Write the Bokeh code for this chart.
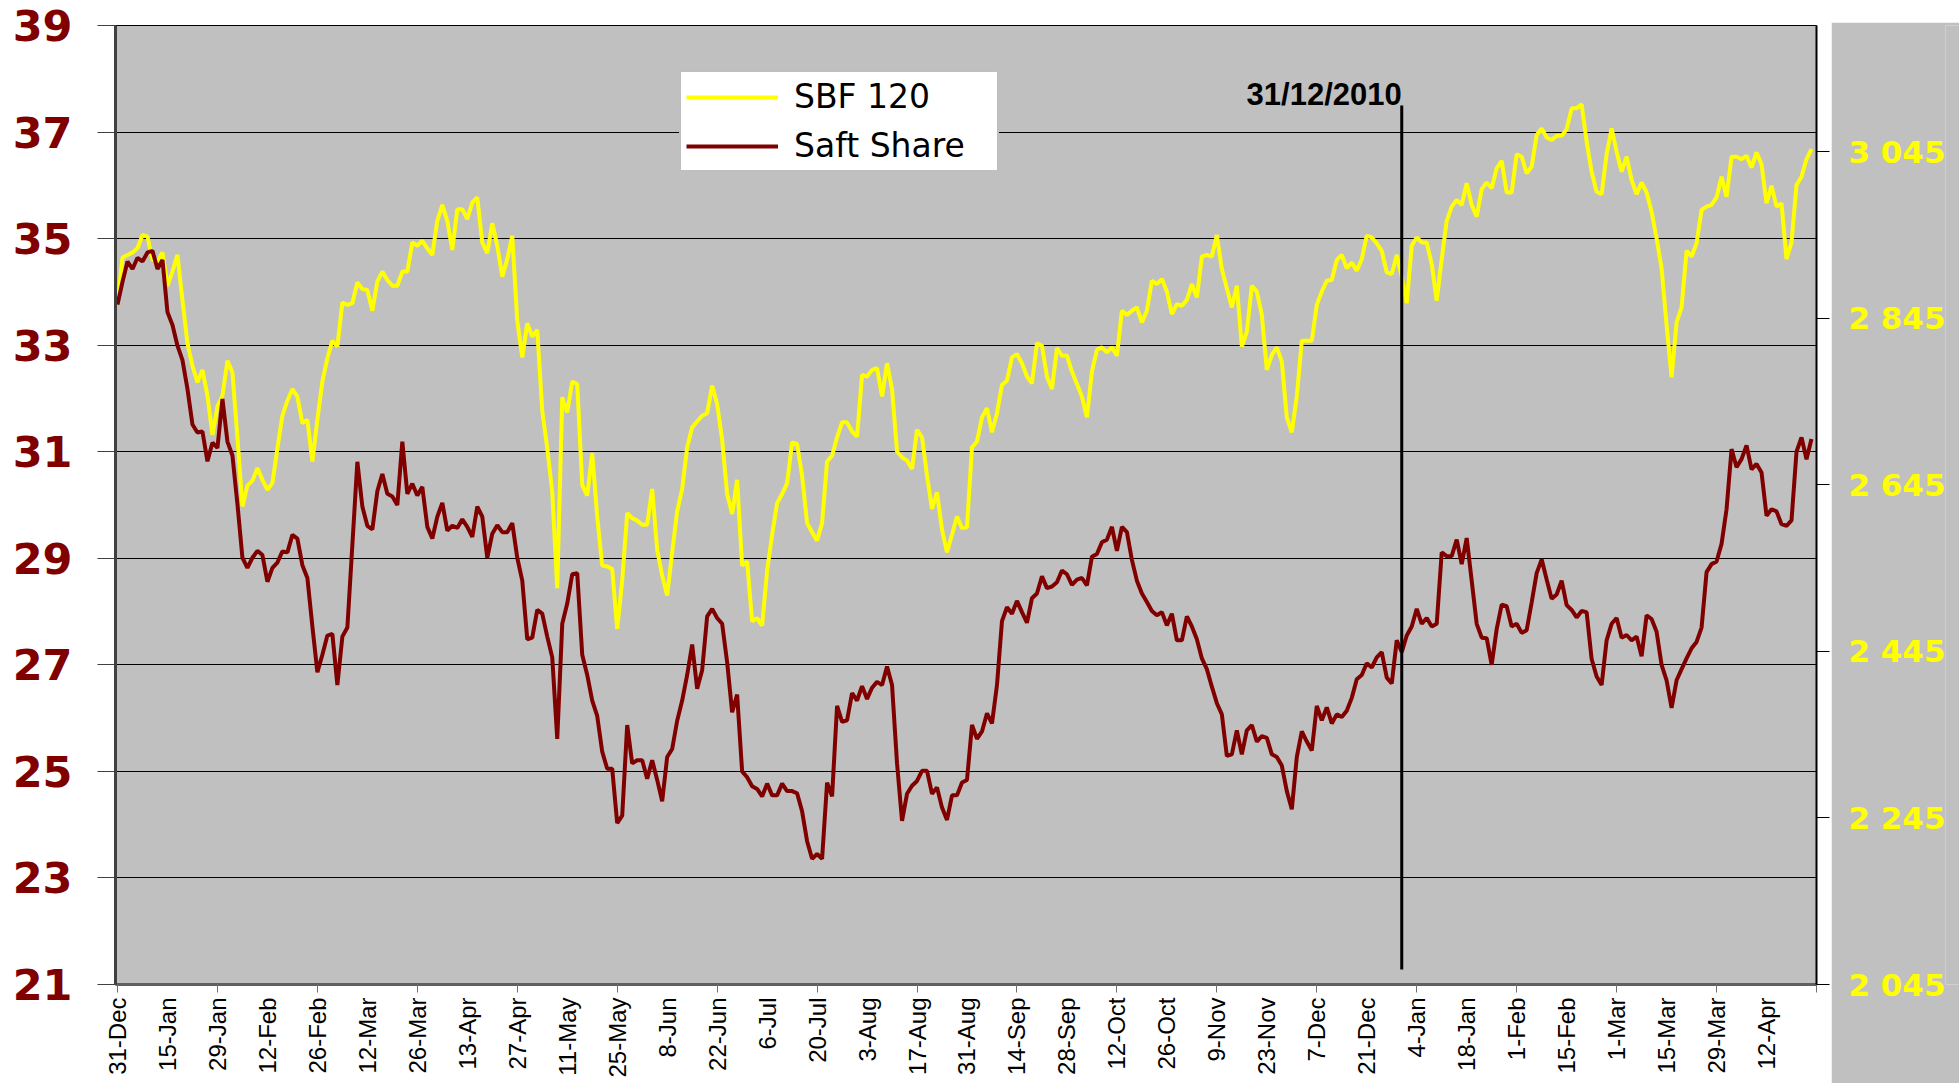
import math
from bokeh.plotting import figure
from bokeh.models import (Range1d, LinearAxis, FixedTicker, Legend, LegendItem, Label,
                          Spacer, CustomJSTickFormatter)
from bokeh.layouts import row, column
from bokeh.embed import file_html
from bokeh.resources import INLINE

# ---------------- data ----------------
SBF_120 = [
    2861, 2918, 2921, 2924, 2929, 2945, 2943, 2915, 2913, 2924,
    2884, 2901, 2921, 2867, 2815, 2788, 2768, 2783, 2752, 2705,
    2739, 2752, 2794, 2780, 2702, 2619, 2644, 2650, 2665, 2651,
    2639, 2647, 2689, 2728, 2746, 2760, 2751, 2719, 2723, 2673,
    2723, 2769, 2797, 2818, 2811, 2864, 2861, 2863, 2888, 2880,
    2879, 2854, 2889, 2901, 2891, 2884, 2884, 2901, 2901, 2936,
    2932, 2938, 2929, 2921, 2962, 2981, 2962, 2927, 2976, 2976,
    2964, 2984, 2990, 2936, 2923, 2959, 2932, 2895, 2916, 2944,
    2842, 2798, 2839, 2823, 2831, 2734, 2689, 2637, 2521, 2750,
    2732, 2769, 2766, 2645, 2632, 2683, 2607, 2548, 2547, 2544,
    2472, 2530, 2611, 2605, 2602, 2597, 2597, 2640, 2567, 2536,
    2512, 2564, 2613, 2640, 2690, 2714, 2721, 2728, 2731, 2764,
    2742, 2699, 2634, 2610, 2651, 2548, 2553, 2481, 2485, 2476,
    2542, 2585, 2623, 2634, 2647, 2696, 2694, 2656, 2599, 2588,
    2578, 2599, 2673, 2680, 2702, 2720, 2720, 2709, 2703, 2777,
    2775, 2783, 2785, 2751, 2791, 2760, 2685, 2678, 2674, 2664,
    2711, 2702, 2656, 2616, 2636, 2591, 2564, 2585, 2607, 2593,
    2594, 2690, 2697, 2726, 2737, 2708, 2731, 2765, 2770, 2798,
    2802, 2791, 2775, 2767, 2815, 2812, 2775, 2760, 2809, 2800,
    2800, 2781, 2766, 2751, 2726, 2781, 2807, 2810, 2804, 2810,
    2800, 2854, 2849, 2854, 2858, 2840, 2854, 2890, 2886, 2892,
    2877, 2850, 2862, 2860, 2867, 2886, 2870, 2919, 2921, 2919,
    2945, 2904, 2881, 2858, 2884, 2811, 2829, 2884, 2877, 2849,
    2783, 2801, 2810, 2793, 2726, 2708, 2751, 2818, 2818, 2818,
    2861, 2877, 2890, 2891, 2915, 2921, 2905, 2912, 2902, 2916,
    2944, 2942, 2935, 2926, 2900, 2898, 2921, 2895, 2863, 2932,
    2942, 2936, 2936, 2910, 2866, 2916, 2962, 2979, 2987, 2981,
    3007, 2981, 2967, 3000, 3008, 3001, 3025, 3034, 2996, 2996,
    3042, 3039, 3019, 3027, 3065, 3073, 3062, 3059, 3064, 3064,
    3072, 3097, 3097, 3102, 3057, 3021, 2997, 2994, 3042, 3073,
    3045, 3021, 3039, 3011, 2994, 3008, 2996, 2973, 2941, 2905,
    2837, 2774, 2840, 2858, 2926, 2919, 2935, 2975, 2979, 2981,
    2990, 3015, 2991, 3039, 3039, 3036, 3040, 3026, 3044, 3030,
    2983, 3004, 2979, 2983, 2916, 2936, 3005, 3015, 3036, 3048,
]

SAFT_SHARE = [
    33.76, 34.19, 34.57, 34.43, 34.64, 34.57, 34.74, 34.77, 34.43, 34.60,
    33.62, 33.38, 32.99, 32.72, 32.18, 31.51, 31.36, 31.38, 30.82, 31.17,
    31.07, 31.99, 31.19, 30.93, 30.02, 29.01, 28.82, 29.01, 29.14, 29.06,
    28.56, 28.82, 28.92, 29.13, 29.11, 29.44, 29.37, 28.87, 28.63, 27.72,
    26.86, 27.19, 27.55, 27.58, 26.62, 27.53, 27.70, 29.25, 30.81, 29.97,
    29.61, 29.54, 30.26, 30.58, 30.21, 30.16, 30.00, 31.19, 30.21, 30.40,
    30.18, 30.34, 29.59, 29.37, 29.78, 30.04, 29.52, 29.61, 29.57, 29.73,
    29.59, 29.40, 29.97, 29.78, 29.01, 29.46, 29.62, 29.49, 29.49, 29.66,
    29.01, 28.58, 27.48, 27.51, 28.03, 27.96, 27.53, 27.14, 25.61, 27.77,
    28.15, 28.70, 28.72, 27.19, 26.81, 26.33, 26.04, 25.37, 25.05, 25.05,
    24.03, 24.17, 25.87, 25.15, 25.21, 25.21, 24.86, 25.21, 24.84, 24.44,
    25.27, 25.42, 25.95, 26.33, 26.81, 27.38, 26.55, 26.90, 27.91, 28.05,
    27.88, 27.77, 27.05, 26.11, 26.44, 25.00, 24.89, 24.72, 24.67, 24.53,
    24.77, 24.55, 24.55, 24.77, 24.63, 24.63, 24.59, 24.25, 23.69, 23.36,
    23.45, 23.36, 24.79, 24.53, 26.23, 25.93, 25.96, 26.47, 26.33, 26.60,
    26.36, 26.57, 26.68, 26.62, 26.97, 26.62, 25.15, 24.07, 24.58, 24.73,
    24.82, 25.01, 25.01, 24.58, 24.70, 24.32, 24.09, 24.55, 24.55, 24.79,
    24.84, 25.87, 25.61, 25.75, 26.09, 25.90, 26.62, 27.82, 28.08, 27.96,
    28.20, 27.99, 27.79, 28.25, 28.34, 28.66, 28.44, 28.47, 28.55, 28.77,
    28.70, 28.50, 28.60, 28.63, 28.49, 29.03, 29.08, 29.30, 29.35, 29.59,
    29.14, 29.59, 29.49, 28.97, 28.58, 28.34, 28.18, 28.01, 27.93, 27.99,
    27.74, 27.96, 27.46, 27.46, 27.91, 27.72, 27.48, 27.12, 26.92, 26.59,
    26.28, 26.07, 25.29, 25.32, 25.77, 25.32, 25.77, 25.87, 25.56, 25.66,
    25.63, 25.32, 25.27, 25.11, 24.63, 24.29, 25.27, 25.75, 25.56, 25.39,
    26.23, 25.96, 26.20, 25.90, 26.07, 26.02, 26.14, 26.38, 26.73, 26.81,
    27.03, 26.95, 27.14, 27.24, 26.76, 26.65, 27.46, 27.24, 27.55, 27.72,
    28.05, 27.77, 27.88, 27.72, 27.77, 29.11, 29.04, 29.04, 29.35, 28.89,
    29.38, 28.58, 27.77, 27.51, 27.50, 27.00, 27.67, 28.13, 28.10, 27.72,
    27.77, 27.60, 27.65, 28.17, 28.72, 28.98, 28.60, 28.24, 28.32, 28.58,
    28.12, 28.03, 27.89, 28.01, 27.99, 27.11, 26.78, 26.62, 27.46, 27.77,
    27.88, 27.51, 27.56, 27.46, 27.53, 27.16, 27.93, 27.86, 27.62, 27.00,
    26.71, 26.19, 26.71, 26.92, 27.12, 27.31, 27.43, 27.70, 28.74, 28.89,
    28.94, 29.27, 29.92, 31.05, 30.71, 30.86, 31.12, 30.67, 30.77, 30.61,
    29.80, 29.92, 29.88, 29.64, 29.61, 29.71, 31.00, 31.27, 30.86, 31.24,
]

DATE_LABELS = ["31-Dec", "15-Jan", "29-Jan", "12-Feb", "26-Feb", "12-Mar", "26-Mar",
               "13-Apr", "27-Apr", "11-May", "25-May", "8-Jun", "22-Jun", "6-Jul",
               "20-Jul", "3-Aug", "17-Aug", "31-Aug", "14-Sep", "28-Sep", "12-Oct",
               "26-Oct", "9-Nov", "23-Nov", "7-Dec", "21-Dec", "4-Jan", "18-Jan",
               "1-Feb", "15-Feb", "1-Mar", "15-Mar", "29-Mar", "12-Apr"]
LABEL_EVERY = 10          # trading days between date labels
TICK_EVERY = 20           # trading days between tick marks
N_SLOTS = 340             # category slots on the x axis

LEFT_TICKS = [21, 23, 25, 27, 29, 31, 33, 35, 37, 39]
RIGHT_TICKS = [2045, 2245, 2445, 2645, 2845, 3045]
RIGHT_TICK_LABELS = ["2 045", "2 245", "2 445", "2 645", "2 845", "3 045"]
RIGHT_RANGE = (2045, 3196.5)

MARKER_INDEX = 257        # 31/12/2010
MARKER_TEXT = "31/12/2010"
MARKER_Y = (21.28, 37.5)

# ---------------- styling ----------------
GRAY = "#C0C0C0"
MAROON = "#800000"
YELLOW = "#FFFF00"

idx = list(range(len(SBF_120)))

p = figure(width=1831, height=1083,
           x_range=Range1d(-0.4, N_SLOTS), y_range=Range1d(LEFT_TICKS[0], LEFT_TICKS[-1]),
           output_backend="svg", toolbar_location=None,
           min_border_left=115, min_border_right=15, min_border_top=25, min_border_bottom=99,
           background_fill_color=GRAY, border_fill_color="white",
           outline_line_color="black", outline_line_width=1)
p.extra_y_ranges = {"sbf": Range1d(*RIGHT_RANGE)}

r_sbf = p.line(idx, SBF_120, y_range_name="sbf", line_color=YELLOW, line_width=4)
r_saft = p.line(idx, SAFT_SHARE, line_color=MAROON, line_width=4)

p.segment(x0=[MARKER_INDEX], y0=[MARKER_Y[0]], x1=[MARKER_INDEX], y1=[MARKER_Y[1]],
          line_color="black", line_width=3)
p.add_layout(Label(x=MARKER_INDEX, y=MARKER_Y[1], y_offset=11, text=MARKER_TEXT,
                   text_align="right", text_baseline="alphabetic",
                   text_font="Liberation Sans", text_font_style="bold",
                   text_font_size="31px", text_color="black"))

# x axis
label_pos = [i * LABEL_EVERY for i in range(len(DATE_LABELS))]
tick_pos = list(range(0, N_SLOTS + 1, TICK_EVERY))
xa = p.xaxis[0]
xa.ticker = FixedTicker(ticks=label_pos, minor_ticks=tick_pos)
xa.major_label_overrides = {pos: lab for pos, lab in zip(label_pos, DATE_LABELS)}
xa.major_label_orientation = math.pi / 2
xa.major_tick_out = 0
xa.major_tick_in = 0
xa.minor_tick_out = 8
xa.minor_tick_in = 0
xa.minor_tick_line_color = "#707070"
xa.axis_line_color = "#606060"
xa.axis_line_width = 3
xa.major_label_text_font = "Liberation Sans"
xa.major_label_text_font_size = "24px"
xa.major_label_text_color = "black"
xa.major_label_standoff = 5

# left axis
ya = p.yaxis[0]
ya.ticker = FixedTicker(ticks=LEFT_TICKS)
ya.major_tick_out = 18
ya.major_tick_in = 0
ya.minor_tick_out = 0
ya.minor_tick_in = 0
ya.major_tick_line_color = "#404040"
ya.axis_line_color = "#404040"
ya.axis_line_width = 3
ya.major_label_text_font = "DejaVu Sans"
ya.major_label_text_font_style = "bold"
ya.major_label_text_font_size = "43px"
ya.major_label_text_color = MAROON
ya.major_label_standoff = 25

p.xgrid.visible = False
p.ygrid.ticker = FixedTicker(ticks=LEFT_TICKS)
p.ygrid.grid_line_color = "black"
p.ygrid.grid_line_width = 1

# right axis: ticks only
ra = LinearAxis(y_range_name="sbf", ticker=FixedTicker(ticks=RIGHT_TICKS),
                formatter=CustomJSTickFormatter(code="return ''"),
                major_tick_out=13, major_tick_in=0, minor_tick_out=0, minor_tick_in=0,
                major_tick_line_color="black", axis_line_color="black", axis_line_width=2,
                major_label_standoff=0)
p.add_layout(ra, "right")

legend = Legend(items=[LegendItem(label="SBF 120", renderers=[r_sbf]),
                       LegendItem(label="Saft Share", renderers=[r_saft])],
                location=(564, 812), orientation="vertical",
                background_fill_color="white", background_fill_alpha=1.0,
                border_line_color="#808080", border_line_width=2,
                label_text_font="DejaVu Sans", label_text_font_size="33px",
                label_text_color="black",
                glyph_width=92, glyph_height=38, label_height=38, label_width=198,
                label_standoff=16, padding=5, spacing=10, margin=0)
p.add_layout(legend, "center")

# right gray label panel
p2 = figure(width=128, height=1061,
            x_range=Range1d(0, 1), y_range=Range1d(*RIGHT_RANGE),
            output_backend="svg", toolbar_location=None,
            min_border_left=114, min_border_right=0, min_border_top=3, min_border_bottom=99,
            background_fill_color=GRAY, border_fill_color=GRAY, outline_line_color=None)
p2.xaxis.visible = False
p2.xgrid.visible = False
p2.ygrid.visible = False
ya2 = p2.yaxis[0]
ya2.ticker = FixedTicker(ticks=RIGHT_TICKS)
ya2.major_label_overrides = {t: lab for t, lab in zip(RIGHT_TICKS, RIGHT_TICK_LABELS)}
ya2.axis_line_color = None
ya2.major_tick_line_color = None
ya2.minor_tick_line_color = None
ya2.major_tick_out = 0
ya2.major_tick_in = 0
ya2.minor_tick_out = 0
ya2.minor_tick_in = 0
ya2.major_label_standoff = 0
ya2.major_label_text_font = "DejaVu Sans"
ya2.major_label_text_font_style = "bold"
ya2.major_label_text_font_size = "31px"
ya2.major_label_text_color = YELLOW

layout = row(p, column(Spacer(width=128, height=22), p2))

open("out.html", "w").write(file_html(layout, INLINE))
